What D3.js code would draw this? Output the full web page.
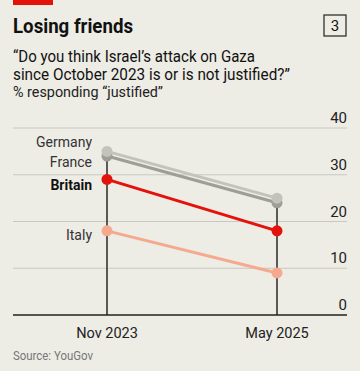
<!DOCTYPE html>
<html>
<head>
<meta charset="utf-8">
<script src="https://cdn.jsdelivr.net/npm/d3@7"></script>
<style>
  body { margin: 0; background: #edece5; }
  svg { display: block; font-family: Roboto, "Noto Sans", sans-serif; }
</style>
</head>
<body>
<div id="chart"></div>
<script>
// data
let periods = ["Nov 2023", "May 2025"];
let countries = ["Germany", "France", "Britain", "Italy"];
let germany = [35, 25];
let france = [34, 24];
let britain = [29, 18];
let italy = [18, 9];
let yTicks = [0, 10, 20, 30, 40];

let width = 360, height = 371;

let svg = d3.select("#chart")
    .append("svg")
    .attr("width", width)
    .attr("height", height);

svg.append("rect").attr("width", width).attr("height", height).attr("fill", "#edece5");

// red tag top left
svg.append("rect").attr("x", 13).attr("y", 0).attr("width", 40).attr("height", 5).attr("fill", "#e3120b");

svg.append("text").attr("x", 13).attr("y", 33)
    .attr("font-size", 20).attr("font-weight", 700).attr("fill", "#111")
    .attr("textLength", 120).attr("lengthAdjust", "spacingAndGlyphs")
    .text("Losing friends");

// chart number box
svg.append("rect").attr("x", 324).attr("y", 15).attr("width", 22).attr("height", 21)
    .attr("fill", "none").attr("stroke", "#222").attr("stroke-width", 1.2);
svg.append("text").attr("x", 335).attr("y", 31).attr("text-anchor", "middle")
    .attr("font-size", 15).attr("fill", "#111").text("3");

// subtitle (narrowed to mimic the condensed face)
svg.append("text").attr("x", 13).attr("y", 62).attr("font-size", 16.5).attr("fill", "#111")
    .attr("textLength", 242).attr("lengthAdjust", "spacingAndGlyphs")
    .text("“Do you think Israel’s attack on Gaza");
svg.append("text").attr("x", 13).attr("y", 80).attr("font-size", 16.5).attr("fill", "#111")
    .attr("textLength", 277).attr("lengthAdjust", "spacingAndGlyphs")
    .text("since October 2023 is or is not justified?”");
svg.append("text").attr("x", 13).attr("y", 97).attr("font-size", 14.5).attr("fill", "#222")
    .attr("textLength", 150).attr("lengthAdjust", "spacingAndGlyphs")
    .text("% responding “justified”");

let x = d3.scalePoint().domain(periods).range([107, 277]);
let y = d3.scaleLinear().domain([0, 40]).range([315, 128]);

// gridlines
svg.selectAll(".grid")
    .data(yTicks.filter(d => d > 0))
    .enter().append("line")
    .attr("x1", 13).attr("x2", 347)
    .attr("y1", d => y(d)).attr("y2", d => y(d))
    .attr("stroke", "#c9c8c0").attr("stroke-width", 1);

// y tick labels
svg.selectAll(".ytick")
    .data(yTicks)
    .enter().append("text")
    .attr("x", 347).attr("y", d => y(d) - 5)
    .attr("text-anchor", "end").attr("font-size", 15).attr("fill", "#222")
    .text(d => d);

// vertical drop lines
let tops = [germany[0], germany[1]];
svg.selectAll(".drop")
    .data(periods)
    .enter().append("line")
    .attr("x1", d => x(d)).attr("x2", d => x(d))
    .attr("y1", (d, i) => y(tops[i])).attr("y2", y(0))
    .attr("stroke", "#4a4a48").attr("stroke-width", 1.8);

// baseline
svg.append("line").attr("x1", 13).attr("x2", 347).attr("y1", y(0)).attr("y2", y(0))
    .attr("stroke", "#222").attr("stroke-width", 1.5);

let series = [
    { name: "Italy", values: italy, color: "#f5a98f" },
    { name: "Britain", values: britain, color: "#e3120b" },
    { name: "France", values: france, color: "#9e9e98" },
    { name: "Germany", values: germany, color: "#c3c3bb" }
];

let line = d3.line().x((d, i) => x(periods[i])).y(d => y(d));

series.forEach(function (s) {
    svg.append("path").datum(s.values)
        .attr("d", line).attr("fill", "none")
        .attr("stroke", s.color).attr("stroke-width", 3);
});
series.forEach(function (s) {
    svg.selectAll(null).data(s.values).enter().append("circle")
        .attr("cx", (d, i) => x(periods[i])).attr("cy", d => y(d))
        .attr("r", 5.5).attr("fill", s.color);
});

// country labels
let labelY = { Germany: 142, France: 162, Britain: 185, Italy: 235 };
countries.forEach(function (c) {
    svg.append("text").attr("x", 92).attr("y", labelY[c]).attr("dy", "0.35em")
        .attr("text-anchor", "end").attr("font-size", 14)
        .attr("font-weight", c === "Britain" ? 700 : 400)
        .attr("fill", c === "Britain" ? "#111" : "#333")
        .text(c);
});

// x labels
svg.selectAll(".xlab").data(periods).enter().append("text")
    .attr("x", d => x(d)).attr("y", 338).attr("text-anchor", "middle")
    .attr("font-size", 14.5).attr("fill", "#222").text(d => d);

svg.append("text").attr("x", 13).attr("y", 360).attr("font-size", 12.5).attr("fill", "#777")
    .attr("textLength", 80).attr("lengthAdjust", "spacingAndGlyphs")
    .text("Source: YouGov");
</script>
</body>
</html>
